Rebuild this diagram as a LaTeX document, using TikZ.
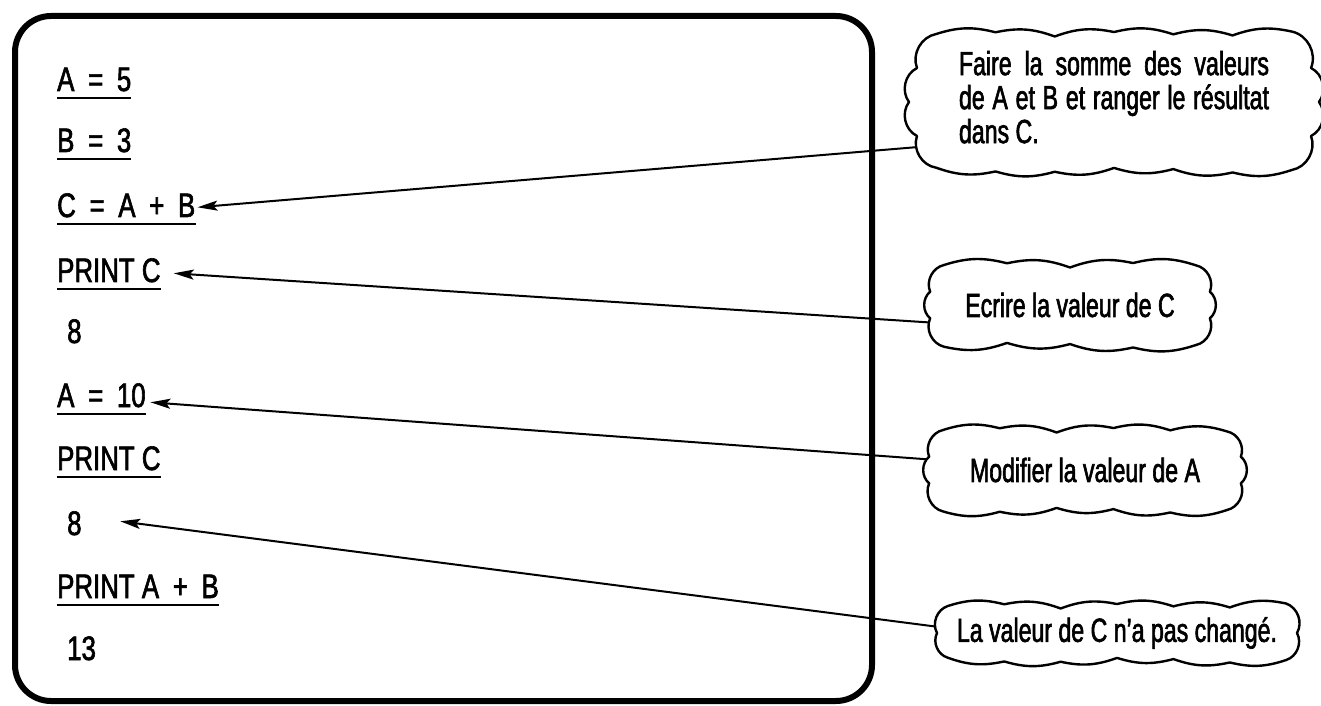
\documentclass[tikz,border=0pt]{standalone}
\usepackage{fontspec}
\setmainfont{Liberation Sans}
\newfontfamily\codefont[FakeStretch=0.76,FakeBold=1.8]{Liberation Sans}
\newfontfamily\narrowfont[FakeStretch=0.69,FakeBold=1.8]{Liberation Sans}
\usetikzlibrary{arrows.meta,calc}

\pgfdeclarelayer{paper}
\pgfdeclarelayer{wires}
\pgfdeclarelayer{rims}
\pgfsetlayers{paper,wires,rims,main}

% wide blank around = and +
\newcommand\wsp{\hspace{13.7pt}}

% rule under a line of the listing
\newcommand\codeline[1]{\draw[uline] ([yshift=-7pt]#1.base west) -- ([yshift=-7pt]#1.base east);}

% wavy outline around a note: #1 node, #2 half width, #3 half height,
% #4 waves along top and bottom, #5 waves on each end
\newcommand\cloudrim[5]{%
  \begin{pgfonlayer}{rims}
  \draw[rim,shift={(#1.center)}]
    ({-#2+0.4*#3},#3)
    \foreach \k in {1,...,#4}{ to[bend left=16] ({-#2+0.4*#3+(2*#2-0.8*#3)*\k/#4},{#3+2.5*sin(137*\k)}) }
    \foreach \k in {1,...,#5}{ to[bend left=50] ({#2-0.4*#3+0.4*#3*sin(180*\k/#5)},{#3-2*#3*\k/#5}) }
    \foreach \k in {1,...,#4}{ to[bend left=16] ({#2-0.4*#3-(2*#2-0.8*#3)*\k/#4},{-#3-2.5*sin(101*\k)}) }
    \foreach \k in {1,...,#5}{ to[bend left=50] ({-#2+0.4*#3-0.4*#3*sin(180*\k/#5)},{-#3+2*#3*\k/#5}) }
    -- cycle;
  \end{pgfonlayer}}

\tikzset{
  code/.style={anchor=base west, inner sep=0pt, font=\codefont\fontsize{34}{34}\selectfont},
  uline/.style={line width=2pt},
  notetext/.style={shape=rectangle, inner sep=0pt, align=left,
    font=\narrowfont\fontsize{33.5}{34}\selectfont},
  rim/.style={draw, line width=2.4pt, fill=white, line join=round},
  pointer/.style={line width=2pt, -{Stealth[length=20pt,width=10pt,inset=4pt]}},
  frame/.style={line width=6pt, rounded corners=36pt},
}

\begin{document}
\begin{tikzpicture}[x=1pt,y=1pt]
\begin{pgfonlayer}{paper}
  \fill[white] (0,0) rectangle (1321,705);
\end{pgfonlayer}
\useasboundingbox (0,0) rectangle (1321,705);

% screen frame
\draw[frame] (15,4) rectangle (872,689);

% listing
\node[code] (l1)  at (57,614) {A\wsp=\wsp5};
\node[code] (l2)  at (57,553) {B\wsp=\wsp3};
\node[code] (l3)  at (57,488) {C\wsp=\wsp A\wsp+\wsp B};
\node[code] (l4)  at (57,423) {PRINT C};
\node[code] (l5)  at (67,362) {8};
\node[code] (l6)  at (57,298) {A\wsp=\wsp10};
\node[code] (l7)  at (57,235) {PRINT C};
\node[code] (l8)  at (67,170) {8};
\node[code] (l9)  at (57,107) {PRINT A\wsp+\wsp B};
\node[code] (l10) at (67,45)  {13};
\codeline{l1}\codeline{l2}\codeline{l3}\codeline{l4}
\codeline{l6}\codeline{l7}\codeline{l9}

% notes
\node[notetext, minimum width=411pt, minimum height=136pt, text depth=10pt] (c1) at (1114,603)
  {\makebox[310pt][s]{Faire la somme des valeurs}\\
   \makebox[310pt][s]{de A et B et ranger le résultat}\\
   dans C.};
\node[notetext, minimum width=284pt, minimum height=80pt] (c2) at (1070,400)
  {Ecrire la valeur de C};
\node[notetext, minimum width=316pt, minimum height=80pt] (c3) at (1085,235)
  {Modifier la valeur de A};
\node[notetext, minimum width=360pt, minimum height=54pt] (c4) at (1117,72)
  {La valeur de C n’a pas changé.};

\cloudrim{c1}{205}{68}{6}{4}
\cloudrim{c2}{142}{40}{4}{3}
\cloudrim{c3}{158}{40}{5}{3}
\cloudrim{c4}{180}{27}{6}{2}

% pointers from the notes to the lines they explain
\begin{pgfonlayer}{wires}
\draw[pointer] ([xshift=10pt,yshift=-45pt]c1.west) -- ([xshift=2pt,yshift=-2pt]l3.east);
\draw[pointer] ([xshift=10pt,yshift=-18pt]c2.west) -- ([xshift=13pt,yshift=-3pt]l4.east);
\draw[pointer] ([xshift=10pt,yshift=10pt]c3.west)  -- ([xshift=4.5pt,yshift=-7pt]l6.east);
\draw[pointer] ([xshift=10pt,yshift=5pt]c4.west)   -- ([xshift=38.5pt,yshift=2pt]l8.east);
\end{pgfonlayer}
\end{tikzpicture}
\end{document}
